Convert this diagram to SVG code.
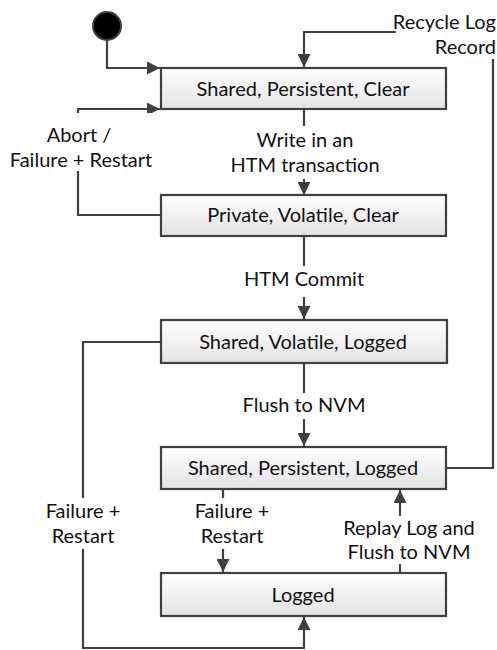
<svg xmlns="http://www.w3.org/2000/svg" width="497" height="650" viewBox="0 0 497 650">
<style>
.box{fill:url(#g);stroke:#404040;stroke-width:2.2}
.t{font-family:Lato,"Liberation Sans",sans-serif;font-size:20px;fill:#111;text-anchor:middle}
.c{fill:none;stroke:#404040;stroke-width:2.2}
.bg{fill:#fff}
</style>
<defs>
<linearGradient id="g" x1="0" y1="0" x2="0" y2="1">
<stop offset="0" stop-color="#ffffff"/>
<stop offset="1" stop-color="#e3e3e3"/>
</linearGradient>
<marker id="a" markerUnits="userSpaceOnUse" markerWidth="14" markerHeight="13" refX="13" refY="6.5" orient="auto">
<path d="M0,0 L13,6.5 L0,13 z" fill="#404040"/>
</marker>
</defs>
<g id="connectors">
<path class="c" d="M107,40 V68 H160" marker-end="url(#a)"/>
<path class="c" d="M161,215 H78 V109 H160" marker-end="url(#a)"/>
<path class="c" d="M304,109 V195" marker-end="url(#a)"/>
<path class="c" d="M304,236 V319" marker-end="url(#a)"/>
<path class="c" d="M304,363 V446" marker-end="url(#a)"/>
<path class="c" d="M446,468 H493 V32 H304 V67" marker-end="url(#a)"/>
<path class="c" d="M161,342 H83 V648 H304 V617" marker-end="url(#a)"/>
<path class="c" d="M223,489 V572" marker-end="url(#a)"/>
<path class="c" d="M400,573 V490" marker-end="url(#a)"/>
</g>
<g id="labels">
<rect class="bg" x="236" y="126" width="136" height="53"/>
<text class="t" x="305" y="147">Write in an</text>
<text class="t" x="305" y="172">HTM transaction</text>
<rect class="bg" x="246" y="266" width="116" height="31"/>
<text class="t" x="304" y="286">HTM Commit</text>
<rect class="bg" x="244" y="393" width="120" height="26"/>
<text class="t" x="304" y="412">Flush to NVM</text>
<rect class="bg" x="8" y="113" width="148" height="58"/>
<text class="t" x="79" y="142">Abort /</text>
<text class="t" x="81" y="167">Failure + Restart</text>
<rect class="bg" x="396" y="8" width="101" height="51"/>
<text class="t" x="496" y="29" style="text-anchor:end">Recycle Log</text>
<text class="t" x="496" y="54" style="text-anchor:end">Record</text>
<rect class="bg" x="44" y="498" width="80" height="51"/>
<text class="t" x="83" y="518">Failure +</text>
<text class="t" x="83" y="543">Restart</text>
<rect class="bg" x="194" y="498" width="78" height="51"/>
<text class="t" x="232" y="518">Failure +</text>
<text class="t" x="232" y="543">Restart</text>
<rect class="bg" x="343" y="516" width="132" height="48"/>
<text class="t" x="409" y="535">Replay Log and</text>
<text class="t" x="409" y="559">Flush to NVM</text>
</g>
<g id="start"><circle cx="107" cy="26" r="14" fill="#000" stroke="#404040" stroke-width="2"/></g>
<g id="n1"><rect class="box" x="161" y="68" width="285" height="41"/><text class="t" x="303" y="96">Shared, Persistent, Clear</text></g>
<g id="n2"><rect class="box" x="161" y="195" width="285" height="41"/><text class="t" x="303" y="222">Private, Volatile, Clear</text></g>
<g id="n3"><rect class="box" x="161" y="320" width="286" height="43"/><text class="t" x="303" y="349">Shared, Volatile, Logged</text></g>
<g id="n4"><rect class="box" x="161" y="447" width="285" height="42"/><text class="t" x="303" y="475">Shared, Persistent, Logged</text></g>
<g id="n5"><rect class="box" x="161" y="573" width="285" height="43"/><text class="t" x="303" y="602">Logged</text></g>
</svg>
